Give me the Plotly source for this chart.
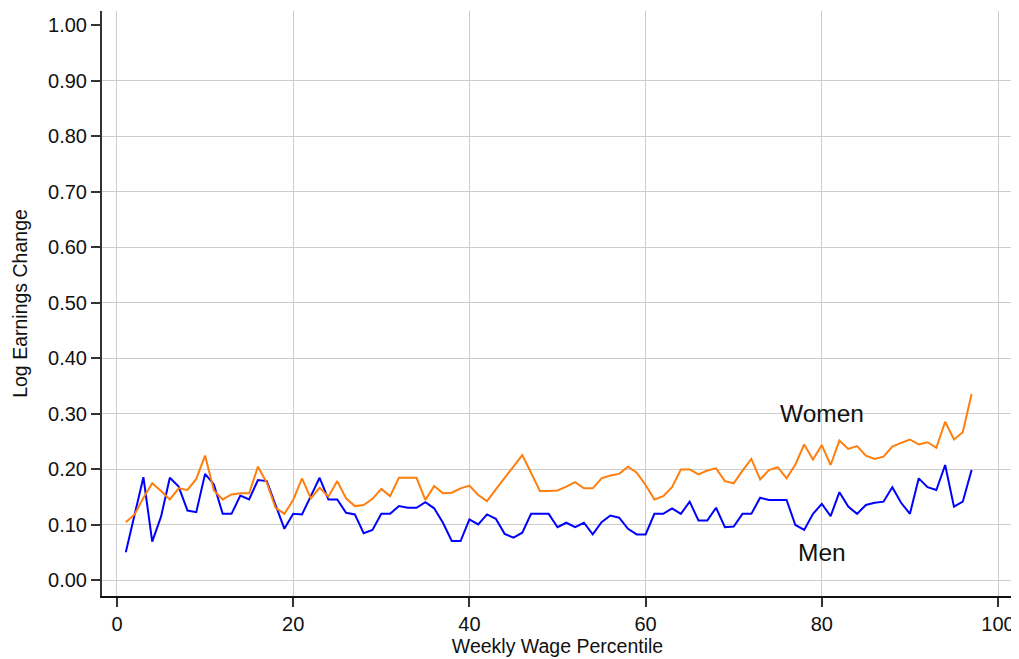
import plotly.graph_objects as go

percentile = list(range(1, 98))

men = [0.051, 0.119, 0.186, 0.070, 0.115, 0.185, 0.169, 0.126, 0.123, 0.192,
       0.173, 0.120, 0.120, 0.153, 0.146, 0.181, 0.179, 0.136, 0.093, 0.120,
       0.119, 0.152, 0.185, 0.146, 0.146, 0.122, 0.119, 0.085, 0.091, 0.120,
       0.120, 0.134, 0.131, 0.131, 0.141, 0.130, 0.104, 0.071, 0.071, 0.110,
       0.101, 0.119, 0.111, 0.084, 0.077, 0.086, 0.120, 0.120, 0.120, 0.096,
       0.104, 0.096, 0.104, 0.083, 0.105, 0.117, 0.113, 0.093, 0.083, 0.083,
       0.120, 0.120, 0.130, 0.120, 0.142, 0.108, 0.108, 0.131, 0.096, 0.097,
       0.120, 0.120, 0.149, 0.145, 0.145, 0.145, 0.100, 0.091, 0.120, 0.138,
       0.116, 0.159, 0.133, 0.120, 0.136, 0.140, 0.142, 0.168, 0.140, 0.120,
       0.184, 0.168, 0.163, 0.208, 0.133, 0.142, 0.199]

women = [0.105, 0.119, 0.149, 0.175, 0.161, 0.146, 0.166, 0.163, 0.183, 0.225,
         0.162, 0.146, 0.155, 0.157, 0.157, 0.205, 0.176, 0.131, 0.120, 0.145,
         0.184, 0.148, 0.167, 0.151, 0.179, 0.148, 0.134, 0.136, 0.147, 0.165,
         0.152, 0.185, 0.185, 0.185, 0.145, 0.170, 0.157, 0.158, 0.166, 0.171,
         0.154, 0.143, 0.164, 0.185, 0.205, 0.226, 0.194, 0.161, 0.161, 0.162,
         0.169, 0.177, 0.166, 0.166, 0.184, 0.189, 0.192, 0.205, 0.194, 0.172,
         0.146, 0.152, 0.168, 0.200, 0.200, 0.191, 0.198, 0.202, 0.179, 0.175,
         0.198, 0.219, 0.182, 0.199, 0.204, 0.184, 0.209, 0.245, 0.218, 0.244,
         0.208, 0.252, 0.237, 0.242, 0.225, 0.219, 0.223, 0.241, 0.248, 0.254,
         0.245, 0.249, 0.239, 0.286, 0.254, 0.267, 0.336]

y_ticks = [0.0, 0.1, 0.2, 0.3, 0.4, 0.5, 0.6, 0.7, 0.8, 0.9, 1.0]
y_tick_labels = ["0.00", "0.10", "0.20", "0.30", "0.40", "0.50",
                 "0.60", "0.70", "0.80", "0.90", "1.00"]
x_ticks = [0, 20, 40, 60, 80, 100]

labels = [("Women", 80, 0.30), ("Men", 80, 0.05)]

FONT = "Liberation Sans, Arial, sans-serif"
GRID = "#cccccc"

fig = go.Figure()
fig.add_trace(go.Scatter(x=percentile, y=men, mode="lines",
                         line=dict(color="#0000ff", width=2), name="Men"))
fig.add_trace(go.Scatter(x=percentile, y=women, mode="lines",
                         line=dict(color="#ff7f0e", width=2), name="Women"))

for text, xv, yv in labels:
    fig.add_annotation(x=xv, y=yv, text=text, showarrow=False,
                       font=dict(size=24.5, color="#111111", family=FONT))

fig.update_layout(
    width=1011, height=651,
    margin=dict(l=94, r=6, t=3, b=63),
    paper_bgcolor="white", plot_bgcolor="white",
    showlegend=False,
    font=dict(family=FONT, color="#111111"),
    xaxis=dict(
        range=[-1.7, 101.7], tickvals=x_ticks,
        ticks="outside", ticklen=9, tickwidth=1.5, tickcolor="#333333",
        showgrid=True, gridcolor=GRID, gridwidth=1,
        showline=True, linecolor="#111111", linewidth=2,
        zeroline=False,
        tickfont=dict(size=20, family=FONT, color="#111111"),
        title=dict(text="Weekly Wage Percentile", standoff=5,
                   font=dict(size=19.5, family=FONT, color="#111111")),
    ),
    yaxis=dict(
        range=[-0.028, 1.026], tickvals=y_ticks, ticktext=y_tick_labels,
        ticks="outside", ticklen=9, tickwidth=1.5, tickcolor="#333333",
        showgrid=False,
        minor=dict(tickvals=y_ticks[:-1], showgrid=True, gridcolor=GRID,
                   gridwidth=1, ticks=""),
        showline=True, linecolor="#333333", linewidth=2,
        zeroline=False,
        tickfont=dict(size=20, family=FONT, color="#111111"),
        title=dict(text="Log Earnings Change", standoff=15,
                   font=dict(size=19.5, family=FONT, color="#111111")),
    ),
)

fig.write_html("out.html")
